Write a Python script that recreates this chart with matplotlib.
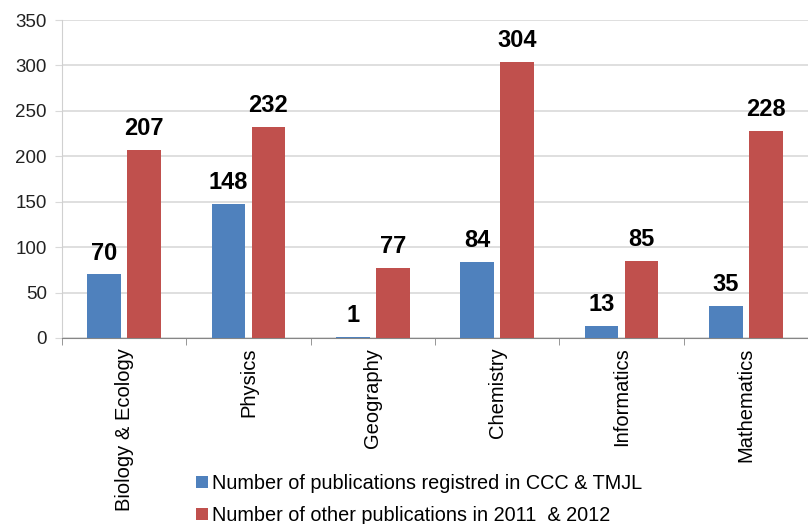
import matplotlib
matplotlib.use("Agg")
import matplotlib.pyplot as plt
import numpy as np

categories = ["Biology & Ecology", "Physics", "Geography", "Chemistry", "Informatics", "Mathematics"]
ccc_tmjl = [70, 148, 1, 84, 13, 35]
other = [207, 232, 77, 304, 85, 228]
series_names = ["Number of publications registred in CCC & TMJL",
                "Number of other publications in 2011  & 2012"]

plt.rcParams['font.family'] = ['Liberation Sans', 'DejaVu Sans']

fig = plt.figure(figsize=(8.08, 5.24), dpi=100)
ax = fig.add_axes([62/808, 1 - 338/524, 1 - 62/808, (338 - 20)/524])

x = np.arange(len(categories))
w = 0.27
gap = 0.025
blue = "#4F81BD"
red = "#C0504D"
b1 = ax.bar(x - w/2 - gap, ccc_tmjl, w, color=blue, label=series_names[0], zorder=3)
b2 = ax.bar(x + w/2 + gap, other, w, color=red, label=series_names[1], zorder=3)

for bars, vals in ((b1, ccc_tmjl), (b2, other)):
    for r, v in zip(bars, vals):
        ax.annotate(str(v), (r.get_x() + r.get_width()/2, r.get_height()),
                    xytext=(0, 7), textcoords="offset points", ha="center", va="bottom",
                    fontsize=17, fontweight="bold", color="black", zorder=4)

ax.set_xlim(-0.5, len(categories) - 0.5)
ax.set_ylim(0, 350)
ax.set_yticks(np.arange(0, 351, 50))
ax.yaxis.grid(True, color="#D9D9D9", linewidth=1.2, zorder=0)
ax.set_axisbelow(True)

ax.set_xticks(x)
ax.set_xticklabels(categories, rotation=90, fontsize=14.5)
ax.set_xticks(np.arange(-0.5, len(categories), 1), minor=True)
ax.tick_params(axis="x", which="major", length=0, pad=7)
ax.tick_params(axis="x", which="minor", length=5, color="#868686")
ax.tick_params(axis="y", length=5, pad=6, color="#D9D9D9", labelsize=13.5, labelcolor="#222222")

for s in ("top", "right"):
    ax.spines[s].set_visible(False)
ax.spines["left"].set_color("#D0D0D0")
ax.spines["bottom"].set_color("#868686")

fig.legend(handles=[b1, b2], loc="upper left", bbox_to_anchor=(188/808, 1 - 466/524),
           frameon=False, fontsize=14.3, handlelength=0.6, handleheight=0.6,
           handletextpad=0.2, labelspacing=0.65, borderaxespad=0)

fig.savefig("out.png", dpi=100)
